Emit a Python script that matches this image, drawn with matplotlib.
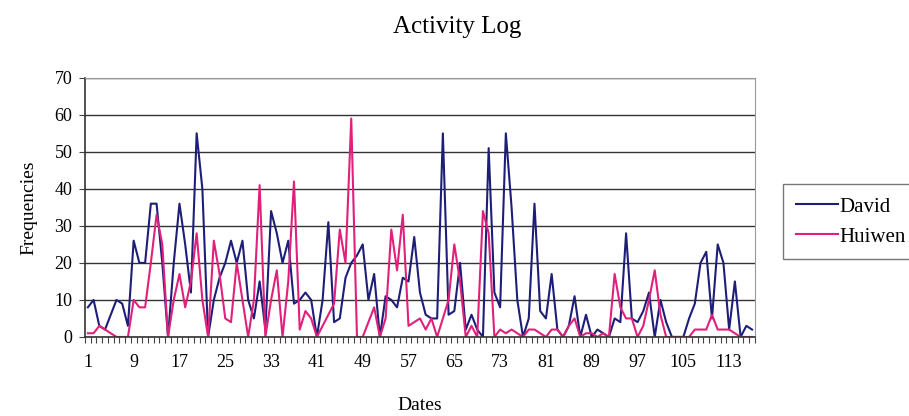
import matplotlib
matplotlib.use("Agg")
import matplotlib.pyplot as plt
import numpy as np

dates = list(range(1, 118))

david = [8, 10, 3, 2, 6, 10, 9, 3, 26, 20,
         20, 36, 36, 20, 0, 20, 36, 25, 12, 55,
         40, 0, 10, 16, 20, 26, 20, 26, 10, 5,
         15, 2, 34, 28, 20, 26, 9, 10, 12, 10,
         0, 10, 31, 4, 5, 16, 20, 22, 25, 10,
         17, 0, 11, 10, 8, 16, 15, 27, 12, 6,
         5, 5, 55, 6, 7, 20, 2, 6, 2, 0,
         51, 12, 8, 55, 35, 10, 0, 5, 36, 7,
         5, 17, 2, 0, 3, 11, 0, 6, 0, 2,
         1, 0, 5, 4, 28, 5, 4, 7, 12, 0,
         10, 4, 0, 0, 0, 5, 9, 20, 23, 5,
         25, 20, 2, 15, 0, 3, 2]

huiwen = [1, 1, 3, 2, 1, 0, 0, 0, 10, 8,
          8, 20, 33, 25, 0, 10, 17, 8, 15, 28,
          10, 0, 26, 17, 5, 4, 20, 10, 0, 10,
          41, 0, 10, 18, 0, 15, 42, 2, 7, 5,
          0, 3, 6, 9, 29, 20, 59, 0, 0, 4,
          8, 0, 5, 29, 18, 33, 3, 4, 5, 2,
          5, 0, 5, 10, 25, 15, 0, 3, 0, 34,
          28, 0, 2, 1, 2, 1, 0, 2, 2, 1,
          0, 2, 2, 0, 3, 5, 0, 1, 1, 0,
          1, 0, 17, 8, 5, 5, 0, 3, 10, 18,
          6, 0, 0, 0, 0, 0, 2, 2, 2, 6,
          2, 2, 2, 1, 0, 0, 0]

tick_labels = [1, 9, 17, 25, 33, 41, 49, 57, 65, 73, 81, 89, 97, 105, 113]

plt.rcParams['font.family'] = ['Liberation Serif', 'DejaVu Serif']

fig = plt.figure(figsize=(9.09, 4.16), dpi=100)
ax = fig.add_axes([0.0935, 0.19, 0.737, 0.623])

ax.plot(dates, david, color='#1e1e78', lw=1.5, label='David')
ax.plot(dates, huiwen, color='#e0207a', lw=1.5, label='Huiwen')

ax.set_xlim(0.5, len(dates) + 0.5)
ax.set_ylim(0, 70)
ax.set_yticks(range(0, 71, 10))
ax.yaxis.grid(True, color='#333333', lw=1)
ax.set_axisbelow(True)

ax.set_xticks(tick_labels)
ax.set_xticklabels([str(t) for t in tick_labels])
ax.set_xticks(np.arange(0.5, len(dates) + 1, 1), minor=True)
ax.tick_params(axis='x', which='major', length=0, labelsize=13, pad=12)
ax.tick_params(axis='x', which='minor', length=4, width=0.8, color='#444444')
ax.tick_params(axis='y', length=4, labelsize=13, color='#444444', pad=5)

for side in ['top', 'right']:
    ax.spines[side].set_color('#999999')
for side in ['left', 'bottom']:
    ax.spines[side].set_color('#333333')
    ax.spines[side].set_linewidth(1.2)

ax.set_xlabel('Dates', fontsize=14, labelpad=19)
ax.set_ylabel('Frequencies', fontsize=14, labelpad=12)
fig.text(0.503, 0.935, 'Activity Log', ha='center', va='center', fontsize=18)

leg = fig.legend(loc='upper left', bbox_to_anchor=(773 / 909, 1 - 174 / 416),
                 fontsize=15, frameon=True, fancybox=False, handlelength=2.0,
                 handletextpad=0.1, borderpad=0.6, labelspacing=0.5)
leg.get_frame().set_edgecolor('#555555')
leg.get_frame().set_linewidth(1)

fig.savefig('out.png', dpi=100)
